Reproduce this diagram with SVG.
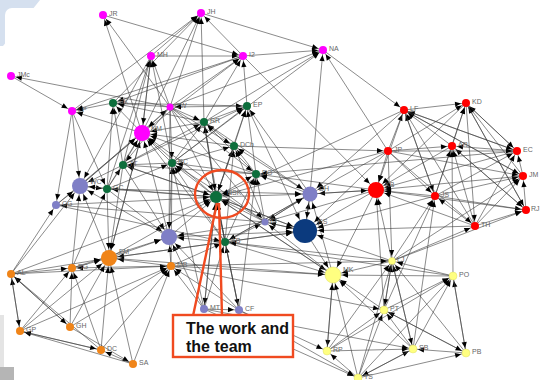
<svg xmlns="http://www.w3.org/2000/svg" width="540" height="380" viewBox="0 0 540 380">
<style>
#edges path{stroke:#3c3c3c;stroke-width:0.6;fill:none;marker-end:url(#m4)}
#edges .b6 path{marker-end:url(#m6)}
#edges .b8 path{marker-end:url(#m8)}
#edges .b12 path{marker-end:url(#m12)}
.n text{font-family:"Liberation Sans",Arial,sans-serif;font-size:7px;fill:#666}
.mg{fill:#ff00ff}.gr{fill:#0d6e3c}.pu{fill:#7f7fc6}.nv{fill:#0b3a7e}.rd{fill:#ff0000}.or{fill:#f08418}.ye{fill:#ffff80;stroke:#d8d860;stroke-width:0.4}
.call{fill:none;stroke:#f04a20;stroke-width:2.4}
.ct{font-family:"Liberation Sans",Arial,sans-serif;font-size:16px;font-weight:bold;fill:#111}
</style>
<defs>
<marker id="m4" viewBox="-10 -5 20 10" refX="5" refY="0" markerWidth="20" markerHeight="10" markerUnits="userSpaceOnUse" orient="auto"><path d="M0 0L-6 -2.6L-6 2.6Z" fill="#000"/></marker>
<marker id="m6" viewBox="-10 -5 20 10" refX="7" refY="0" markerWidth="20" markerHeight="10" markerUnits="userSpaceOnUse" orient="auto"><path d="M0 0L-6 -2.6L-6 2.6Z" fill="#000"/></marker>
<marker id="m8" viewBox="-10 -5 20 10" refX="9" refY="0" markerWidth="20" markerHeight="10" markerUnits="userSpaceOnUse" orient="auto"><path d="M0 0L-6 -2.6L-6 2.6Z" fill="#000"/></marker>
<marker id="m12" viewBox="-10 -5 20 10" refX="13" refY="0" markerWidth="20" markerHeight="10" markerUnits="userSpaceOnUse" orient="auto"><path d="M0 0L-6 -2.6L-6 2.6Z" fill="#000"/></marker>
</defs>
<rect width="540" height="380" fill="#fff"/>
<path d="M0 0H40L3 46H0Z" fill="#d5e0ef"/>
<rect x="5" y="8" width="560" height="400" rx="7" fill="#fff"/>
<rect x="0" y="315" width="4" height="52" fill="#e4e4e4"/>
<rect x="0" y="367" width="14" height="13" fill="#b5b5b5"/>
<g id="edges">
<path d="M170 107L103 15"/><path d="M142 133L103 15"/>
<path d="M103 15L243 56"/><path d="M151 56L243 56"/><path d="M170 107L243 56"/><path d="M204 122L243 56"/><path d="M247 106L243 56"/><path d="M142 133L243 56"/>
<path d="M151 56L201 13"/><path d="M72 111L201 13"/><path d="M113 103L201 13"/><path d="M170 107L201 13"/><path d="M204 122L201 13"/><path d="M243 56L201 13"/><path d="M142 133L201 13"/>
<path d="M201 13L323 50"/><path d="M243 56L323 50"/><path d="M388 151L323 50"/><path d="M310 194L323 50"/><path d="M170 107L323 50"/><path d="M204 122L323 50"/><path d="M172 163L323 50"/>
<path d="M170 107L151 56"/><path d="M123 165L151 56"/><path d="M172 163L151 56"/><path d="M107 189L151 56"/><path d="M142 133L151 56"/>
<path d="M170 107L11 76"/>
<path d="M11 76L72 111"/><path d="M113 103L72 111"/><path d="M142 133L72 111"/><path d="M243 56L72 111"/>
<path d="M170 107L113 103"/><path d="M142 133L113 103"/><path d="M123 165L113 103"/><path d="M107 189L113 103"/><path d="M204 122L113 103"/><path d="M243 56L113 103"/>
<path d="M113 103L247 106"/><path d="M204 122L247 106"/><path d="M234 146L247 106"/><path d="M256 174L247 106"/><path d="M216 197L247 106"/><path d="M172 163L247 106"/><path d="M123 165L247 106"/><path d="M310 194L247 106"/>
<path d="M247 106L170 107"/><path d="M80 186L170 107"/>
<path d="M170 107L204 122"/><path d="M234 146L204 122"/><path d="M216 197L204 122"/><path d="M172 163L204 122"/><path d="M256 174L204 122"/><path d="M225 242L204 122"/><path d="M123 165L204 122"/>
<path d="M170 107L234 146"/><path d="M256 174L234 146"/><path d="M216 197L234 146"/><path d="M172 163L234 146"/><path d="M225 242L234 146"/><path d="M265 222L234 146"/><path d="M310 194L234 146"/>
<path d="M170 107L123 165"/><path d="M172 163L123 165"/><path d="M107 189L123 165"/><path d="M216 197L123 165"/><path d="M256 174L123 165"/>
<path d="M170 107L172 163"/><path d="M216 197L172 163"/><path d="M107 189L172 163"/><path d="M256 174L172 163"/><path d="M171 266L172 163"/><path d="M265 222L172 163"/><path d="M225 242L172 163"/><path d="M204 309L172 163"/>
<path d="M170 107L256 174"/><path d="M216 197L256 174"/><path d="M310 194L256 174"/><path d="M265 222L256 174"/><path d="M225 242L256 174"/><path d="M376 190L256 174"/><path d="M239 310L256 174"/><path d="M517 151L256 174"/>
<path d="M72 111L107 189"/><path d="M80 186L107 189"/><path d="M216 197L107 189"/><path d="M72 268L107 189"/>
<path d="M72 111L56 205"/><path d="M11 274L56 205"/><path d="M265 222L56 205"/>
<path d="M170 107L265 222"/><path d="M310 194L265 222"/><path d="M225 242L265 222"/><path d="M333 275L265 222"/><path d="M376 190L265 222"/><path d="M305 231L265 222"/>
<path d="M56 205L225 242"/><path d="M171 266L225 242"/><path d="M204 309L225 242"/><path d="M239 310L225 242"/><path d="M392 261L225 242"/><path d="M453 276L225 242"/><path d="M310 194L225 242"/>
<path d="M404 110L466 103"/><path d="M452 146L466 103"/><path d="M517 151L466 103"/><path d="M388 151L466 103"/><path d="M435 196L466 103"/><path d="M523 176L466 103"/><path d="M526 210L466 103"/>
<path d="M323 50L404 110"/><path d="M388 151L404 110"/><path d="M452 146L404 110"/><path d="M517 151L404 110"/><path d="M435 196L404 110"/><path d="M523 176L404 110"/><path d="M475 226L404 110"/>
<path d="M234 146L388 151"/>
<path d="M388 151L452 146"/><path d="M517 151L452 146"/><path d="M435 196L452 146"/><path d="M475 226L452 146"/><path d="M526 210L452 146"/><path d="M453 276L452 146"/>
<path d="M388 151L517 151"/><path d="M523 176L517 151"/><path d="M435 196L517 151"/><path d="M475 226L517 151"/><path d="M404 110L517 151"/><path d="M466 103L517 151"/>
<path d="M388 151L523 176"/><path d="M526 210L523 176"/><path d="M435 196L523 176"/><path d="M475 226L523 176"/><path d="M392 261L523 176"/><path d="M404 110L523 176"/>
<path d="M435 196L526 210"/><path d="M475 226L526 210"/><path d="M392 261L526 210"/><path d="M452 146L526 210"/><path d="M466 103L526 210"/>
<path d="M388 151L435 196"/><path d="M475 226L435 196"/><path d="M392 261L435 196"/><path d="M384 310L435 196"/><path d="M413 349L435 196"/><path d="M404 110L435 196"/>
<path d="M388 151L475 226"/><path d="M392 261L475 226"/><path d="M466 103L475 226"/>
<path d="M388 151L392 261"/><path d="M384 310L392 261"/><path d="M413 349L392 261"/><path d="M453 276L392 261"/><path d="M358 378L392 261"/><path d="M327 351L392 261"/><path d="M466 353L392 261"/><path d="M171 266L392 261"/>
<path d="M384 310L453 276"/><path d="M413 349L453 276"/><path d="M466 353L453 276"/><path d="M327 351L453 276"/><path d="M358 378L453 276"/>
<path d="M413 349L384 310"/><path d="M358 378L384 310"/><path d="M327 351L384 310"/><path d="M466 353L384 310"/><path d="M392 261L384 310"/><path d="M171 266L384 310"/>
<path d="M327 351L413 349"/><path d="M358 378L413 349"/><path d="M466 353L413 349"/><path d="M392 261L413 349"/><path d="M204 309L413 349"/>
<path d="M358 378L466 353"/><path d="M453 276L466 353"/><path d="M384 310L466 353"/>
<path d="M358 378L327 351"/><path d="M333 275L327 351"/><path d="M239 310L327 351"/>
<path d="M413 349L358 378"/><path d="M239 310L358 378"/><path d="M204 309L358 378"/>
<path d="M11 274L72 268"/><path d="M70 327L72 268"/><path d="M101 350L72 268"/><path d="M20 331L72 268"/><path d="M171 266L72 268"/>
<path d="M101 350L171 266"/><path d="M133 364L171 266"/><path d="M20 331L171 266"/><path d="M70 327L171 266"/><path d="M204 309L171 266"/><path d="M239 310L171 266"/><path d="M11 274L171 266"/>
<path d="M20 331L11 274"/><path d="M70 327L11 274"/><path d="M101 350L11 274"/>
<path d="M11 274L20 331"/><path d="M101 350L20 331"/><path d="M133 364L20 331"/>
<path d="M11 274L70 327"/>
<path d="M70 327L133 364"/>
<path d="M133 364L101 350"/><path d="M20 331L101 350"/>
<path d="M216 197L204 309"/>
<path d="M204 309L239 310"/><path d="M216 197L239 310"/>
<g class="b8">
<path d="M170 107L142 133"/><path d="M151 56L142 133"/><path d="M123 165L142 133"/><path d="M172 163L142 133"/><path d="M107 189L142 133"/><path d="M80 186L142 133"/><path d="M216 197L142 133"/><path d="M234 146L142 133"/><path d="M169 237L142 133"/><path d="M109 258L142 133"/><path d="M265 222L142 133"/><path d="M225 242L142 133"/><path d="M256 174L142 133"/><path d="M56 205L142 133"/><path d="M204 122L142 133"/>
<path d="M72 111L80 186"/><path d="M123 165L80 186"/><path d="M56 205L80 186"/><path d="M109 258L80 186"/><path d="M216 197L80 186"/><path d="M72 268L80 186"/><path d="M169 237L80 186"/><path d="M11 274L80 186"/><path d="M151 56L80 186"/>
<path d="M170 107L169 237"/><path d="M123 165L169 237"/><path d="M172 163L169 237"/><path d="M107 189L169 237"/><path d="M109 258L169 237"/><path d="M171 266L169 237"/><path d="M225 242L169 237"/><path d="M204 309L169 237"/><path d="M72 268L169 237"/><path d="M239 310L169 237"/><path d="M265 222L169 237"/>
<path d="M142 133L109 258"/><path d="M123 165L109 258"/><path d="M107 189L109 258"/><path d="M72 268L109 258"/><path d="M11 274L109 258"/><path d="M70 327L109 258"/><path d="M101 350L109 258"/><path d="M133 364L109 258"/><path d="M171 266L109 258"/><path d="M20 331L109 258"/><path d="M225 242L109 258"/>
<path d="M204 122L310 194"/><path d="M107 189L310 194"/><path d="M216 197L310 194"/><path d="M265 222L310 194"/><path d="M376 190L310 194"/><path d="M404 110L310 194"/><path d="M388 151L310 194"/><path d="M225 242L310 194"/><path d="M333 275L310 194"/><path d="M305 231L310 194"/>
<path d="M243 56L376 190"/><path d="M310 194L376 190"/><path d="M388 151L376 190"/><path d="M466 103L376 190"/><path d="M452 146L376 190"/><path d="M517 151L376 190"/><path d="M523 176L376 190"/><path d="M526 210L376 190"/><path d="M435 196L376 190"/><path d="M475 226L376 190"/><path d="M392 261L376 190"/><path d="M384 310L376 190"/><path d="M404 110L376 190"/>
<path d="M216 197L333 275"/><path d="M225 242L333 275"/><path d="M109 258L333 275"/><path d="M392 261L333 275"/><path d="M453 276L333 275"/><path d="M327 351L333 275"/><path d="M358 378L333 275"/><path d="M384 310L333 275"/><path d="M413 349L333 275"/><path d="M171 266L333 275"/><path d="M376 190L333 275"/><path d="M305 231L333 275"/>
</g>
<g class="b6">
<path d="M170 107L216 197"/><path d="M204 122L216 197"/><path d="M234 146L216 197"/><path d="M56 205L216 197"/><path d="M265 222L216 197"/><path d="M225 242L216 197"/><path d="M169 237L216 197"/><path d="M109 258L216 197"/><path d="M204 309L216 197"/><path d="M239 310L216 197"/><path d="M333 275L216 197"/><path d="M388 151L216 197"/><path d="M404 110L216 197"/><path d="M11 274L216 197"/><path d="M123 165L216 197"/><path d="M305 231L216 197"/>
</g>
<g class="b12">
<path d="M247 106L305 231"/><path d="M216 197L305 231"/><path d="M265 222L305 231"/><path d="M225 242L305 231"/><path d="M392 261L305 231"/><path d="M435 196L305 231"/><path d="M388 151L305 231"/><path d="M169 237L305 231"/><path d="M475 226L305 231"/><path d="M109 258L305 231"/><path d="M310 194L305 231"/><path d="M376 190L305 231"/>
</g>
</g>
<g id="JR" class="n"><circle class="mg" cx="103" cy="15" r="4"/><text x="109" y="16">JR</text></g>
<g id="JH" class="n"><circle class="mg" cx="201" cy="13" r="4"/><text x="207" y="14">JH</text></g>
<g id="MH" class="n"><circle class="mg" cx="151" cy="56" r="4"/><text x="157" y="57">MH</text></g>
<g id="I2" class="n"><circle class="mg" cx="243" cy="56" r="4"/><text x="249" y="57">I2</text></g>
<g id="NA" class="n"><circle class="mg" cx="323" cy="50" r="4"/><text x="329" y="51">NA</text></g>
<g id="JMc" class="n"><circle class="mg" cx="11" cy="76" r="4"/><text x="17" y="77">JMc</text></g>
<g id="LP" class="n"><circle class="mg" cx="72" cy="111" r="4"/><text x="78" y="112">LP</text></g>
<g id="CW" class="n"><circle class="mg" cx="170" cy="107" r="3.5"/><text x="175" y="108">CW</text></g>
<g id="NM" class="n"><circle class="mg" cx="142" cy="133" r="8"/><text x="151" y="131">NM</text></g>
<g id="SK" class="n"><circle class="gr" cx="113" cy="103" r="4"/><text x="119" y="104">SK</text></g>
<g id="EP" class="n"><circle class="gr" cx="247" cy="106" r="4"/><text x="253" y="107">EP</text></g>
<g id="RR" class="n"><circle class="gr" cx="204" cy="122" r="4"/><text x="210" y="123">RR</text></g>
<g id="DCh" class="n"><circle class="gr" cx="234" cy="146" r="4"/><text x="240" y="147">DCh</text></g>
<g id="TT" class="n"><circle class="gr" cx="123" cy="165" r="4"/><text x="129" y="166">TT</text></g>
<g id="RC" class="n"><circle class="gr" cx="172" cy="163" r="4"/><text x="178" y="164">RC</text></g>
<g id="DG" class="n"><circle class="gr" cx="256" cy="174" r="4"/><text x="262" y="175">DG</text></g>
<g id="GC" class="n"><circle class="gr" cx="107" cy="189" r="4"/><text x="113" y="190">GC</text></g>
<g id="NSK" class="n"><circle class="gr" cx="216" cy="197" r="6"/><text x="227" y="195">NSK</text></g>
<g id="AB" class="n"><circle class="gr" cx="225" cy="242" r="4"/><text x="231" y="243">AB</text></g>
<g id="WC" class="n"><circle class="pu" cx="80" cy="186" r="8"/><text x="90" y="184">WC</text></g>
<g id="CG" class="n"><circle class="pu" cx="56" cy="205" r="4"/><text x="62" y="206">CG</text></g>
<g id="DH" class="n"><circle class="pu" cx="310" cy="194" r="7.5"/><text x="319" y="191">DH</text></g>
<g id="KF" class="n"><circle class="pu" cx="265" cy="222" r="3.5"/><text x="270" y="223">KF</text></g>
<g id="PU" class="n"><circle class="pu" cx="169" cy="237" r="8"/></g>
<g id="MT" class="n"><circle class="pu" cx="204" cy="309" r="4"/><text x="210" y="310">MT</text></g>
<g id="CF" class="n"><circle class="pu" cx="239" cy="310" r="4"/><text x="245" y="311">CF</text></g>
<g id="KS" class="n"><circle class="nv" cx="305" cy="231" r="12"/><text x="318" y="224">KS</text></g>
<g id="LF" class="n"><circle class="rd" cx="404" cy="110" r="4"/><text x="410" y="111">LF</text></g>
<g id="KD" class="n"><circle class="rd" cx="466" cy="103" r="4"/><text x="472" y="104">KD</text></g>
<g id="JP" class="n"><circle class="rd" cx="388" cy="151" r="4"/><text x="394" y="152">JP</text></g>
<g id="AR" class="n"><circle class="rd" cx="452" cy="146" r="4"/><text x="458" y="147">AR</text></g>
<g id="EC" class="n"><circle class="rd" cx="517" cy="151" r="4"/><text x="523" y="152">EC</text></g>
<g id="JM" class="n"><circle class="rd" cx="523" cy="176" r="4"/><text x="529" y="177">JM</text></g>
<g id="RJ" class="n"><circle class="rd" cx="526" cy="210" r="4"/><text x="531" y="211">RJ</text></g>
<g id="JS" class="n"><circle class="rd" cx="435" cy="196" r="4"/><text x="441" y="197">JS</text></g>
<g id="TH" class="n"><circle class="rd" cx="475" cy="226" r="4"/><text x="481" y="227">TH</text></g>
<g id="KB" class="n"><circle class="rd" cx="376" cy="190" r="8"/><text x="385" y="187">KB</text></g>
<g id="FM" class="n"><circle class="or" cx="109" cy="258" r="8"/><text x="119" y="254">FM</text></g>
<g id="BG" class="n"><circle class="or" cx="72" cy="268" r="4"/><text x="78" y="269">BG</text></g>
<g id="MB" class="n"><circle class="or" cx="171" cy="266" r="4"/><text x="177" y="267">MB</text></g>
<g id="AL" class="n"><circle class="or" cx="11" cy="274" r="4"/><text x="17" y="275">AL</text></g>
<g id="GP" class="n"><circle class="or" cx="20" cy="331" r="4"/><text x="26" y="332">GP</text></g>
<g id="GH" class="n"><circle class="or" cx="70" cy="327" r="4"/><text x="76" y="328">GH</text></g>
<g id="DC" class="n"><circle class="or" cx="101" cy="350" r="4"/><text x="107" y="351">DC</text></g>
<g id="SA" class="n"><circle class="or" cx="133" cy="364" r="4"/><text x="139" y="365">SA</text></g>
<g id="MK" class="n"><circle class="ye" cx="333" cy="275" r="8"/><text x="343" y="272">MK</text></g>
<g id="LY" class="n"><circle class="ye" cx="392" cy="261" r="3.5"/><text x="397" y="262">LJ</text></g>
<g id="PO" class="n"><circle class="ye" cx="453" cy="276" r="4"/><text x="459" y="277">PO</text></g>
<g id="PT" class="n"><circle class="ye" cx="384" cy="310" r="4"/><text x="390" y="311">PT</text></g>
<g id="RP" class="n"><circle class="ye" cx="327" cy="351" r="4"/><text x="333" y="352">RP</text></g>
<g id="SB" class="n"><circle class="ye" cx="413" cy="349" r="4"/><text x="419" y="350">SB</text></g>
<g id="PB" class="n"><circle class="ye" cx="466" cy="353" r="4"/><text x="472" y="354">PB</text></g>
<g id="TS" class="n"><circle class="ye" cx="358" cy="378" r="4"/><text x="364" y="379">TS</text></g>
<g id="callout">
<path class="call" d="M193 316L217 203M222 316L219 203"/>
<ellipse class="call" cx="222" cy="194" rx="27" ry="24"/>
<rect x="173" y="315" width="120" height="42" fill="#fff" stroke="#f04a20" stroke-width="2.4"/>
<text class="ct" x="186" y="334">The work and</text>
<text class="ct" x="186" y="352">the team</text>
</g>
</svg>
